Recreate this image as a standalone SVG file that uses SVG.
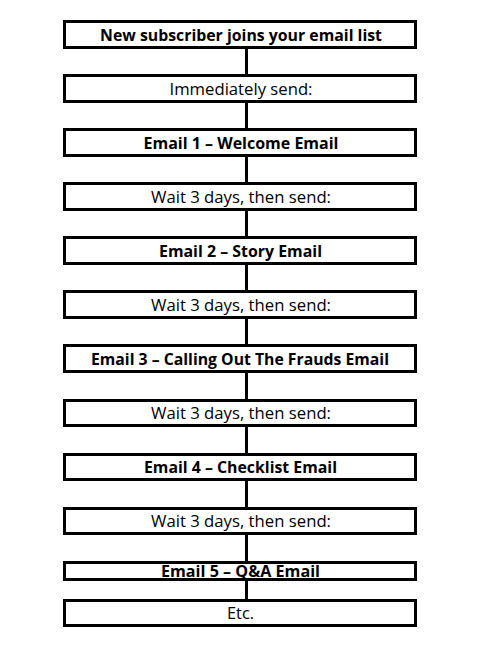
<svg xmlns="http://www.w3.org/2000/svg" width="480" height="648" viewBox="0 0 480 648">
<style>
.box{fill:#fff;stroke:#000;stroke-width:3}
.c{stroke:#000;stroke-width:3;fill:none}
text{font-family:"Open Sans","Noto Sans","Liberation Sans",sans-serif;font-size:15.5px;fill:#000;text-anchor:middle}
.b{font-weight:bold}
</style>
<rect width="480" height="648" fill="#fff"/>
<g id="connectors">
<line class="c" x1="246.5" y1="49" x2="246.5" y2="74"/>
<line class="c" x1="246.5" y1="103" x2="246.5" y2="128"/>
<line class="c" x1="246.5" y1="157" x2="246.5" y2="182"/>
<line class="c" x1="246.5" y1="211" x2="246.5" y2="236"/>
<line class="c" x1="246.5" y1="265" x2="246.5" y2="290"/>
<line class="c" x1="246.5" y1="319" x2="246.5" y2="344"/>
<line class="c" x1="246.5" y1="373" x2="246.5" y2="399"/>
<line class="c" x1="246.5" y1="427" x2="246.5" y2="453"/>
<line class="c" x1="246.5" y1="481" x2="246.5" y2="507"/>
<line class="c" x1="246.5" y1="535" x2="246.5" y2="561"/>
<line class="c" x1="246.5" y1="581" x2="246.5" y2="599"/>
</g>
<g id="n1"><rect class="box" x="64.5" y="21.5" width="351" height="26"/><text class="b" x="241" y="40.5" textLength="282" lengthAdjust="spacingAndGlyphs">New subscriber joins your email list</text></g>
<g id="n2"><rect class="box" x="64.5" y="75.5" width="351" height="26"/><text x="241" y="94.5" textLength="143" lengthAdjust="spacingAndGlyphs">Immediately send:</text></g>
<g id="n3"><rect class="box" x="64.5" y="129.5" width="351" height="26"/><text class="b" x="241" y="148.5" textLength="195" lengthAdjust="spacingAndGlyphs">Email 1 – Welcome Email</text></g>
<g id="n4"><rect class="box" x="64.5" y="183.5" width="351" height="26"/><text x="241" y="202.5" textLength="180" lengthAdjust="spacingAndGlyphs">Wait 3 days, then send:</text></g>
<g id="n5"><rect class="box" x="64.5" y="237.5" width="351" height="26"/><text class="b" x="240.5" y="256.5" textLength="163" lengthAdjust="spacingAndGlyphs">Email 2 – Story Email</text></g>
<g id="n6"><rect class="box" x="64.5" y="291.5" width="351" height="26"/><text x="241" y="310.5" textLength="180" lengthAdjust="spacingAndGlyphs">Wait 3 days, then send:</text></g>
<g id="n7"><rect class="box" x="64.5" y="345.5" width="351" height="26"/><text class="b" x="240" y="364.5" textLength="298" lengthAdjust="spacingAndGlyphs">Email 3 – Calling Out The Frauds Email</text></g>
<g id="n8"><rect class="box" x="64.5" y="400.5" width="351" height="25"/><text x="241" y="418.5" textLength="180" lengthAdjust="spacingAndGlyphs">Wait 3 days, then send:</text></g>
<g id="n9"><rect class="box" x="64.5" y="454.5" width="351" height="25"/><text class="b" x="240.5" y="472.5" textLength="193" lengthAdjust="spacingAndGlyphs">Email 4 – Checklist Email</text></g>
<g id="n10"><rect class="box" x="64.5" y="508.5" width="351" height="25"/><text x="241" y="526.5" textLength="180" lengthAdjust="spacingAndGlyphs">Wait 3 days, then send:</text></g>
<g id="n11"><rect class="box" x="64.5" y="562.5" width="351" height="17"/><text class="b" x="240.5" y="577" textLength="159" lengthAdjust="spacingAndGlyphs">Email 5 – Q&amp;A Email</text></g>
<g id="n12"><rect class="box" x="64.5" y="600.5" width="351" height="25"/><text x="240.5" y="618.5" textLength="27" lengthAdjust="spacingAndGlyphs">Etc.</text></g>
</svg>
